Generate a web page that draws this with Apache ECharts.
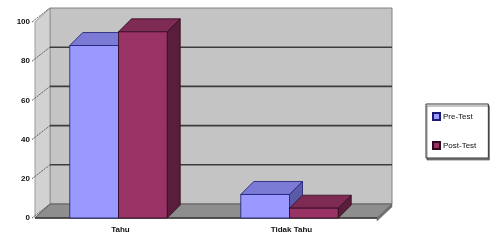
<!DOCTYPE html>
<html><head><meta charset="utf-8">
<script src="https://cdn.jsdelivr.net/npm/echarts@6/dist/echarts.min.js"></script>
<style>html,body{margin:0;padding:0;background:#fff}#c{width:500px;height:249px}</style>
</head><body><div id="c"></div>
<script>
const categories = ['Tahu', 'Tidak Tahu'];
const preTest = [88, 12];
const postTest = [95, 5];
const yTicks = [0, 20, 40, 60, 80, 100];
const seriesNames = ['Pre-Test', 'Post-Test'];

const DX = 15, DY = -14;   // wall depth offset
const BDX = 13, BDY = -13; // bar depth offset
const palettes = [
  {front:'#9999ff', top:'#7b7bd6', side:'#5a5aa8', edge:'#1a1a70'},
  {front:'#993366', top:'#7d2a54', side:'#5a1d3c', edge:'#2e0a1c'}
];

function renderWalls(params, api) {
  const cs = params.coordSys;
  const xl = cs.x, xr = cs.x + cs.width;
  const y0 = api.coord([0, 0])[1], y100 = api.coord([0, 100])[1];
  const ch = [];
  ch.push({type:'polygon', shape:{points:[[xl+DX,y100+DY],[xr+DX,y100+DY],[xr+DX,y0+DY],[xl+DX,y0+DY]]},
    style:{fill:'#c4c4c4', stroke:'#808080', lineWidth:1}});
  ch.push({type:'polygon', shape:{points:[[xl,y100],[xl+DX,y100+DY],[xl+DX,y0+DY],[xl,y0]]},
    style:{fill:'#d2d2d2', stroke:'#9a9a9a', lineWidth:1}});
  yTicks.forEach(v => {
    const y = api.coord([0, v])[1];
    if (v > 0 && v < 100) {
      ch.push({type:'line', shape:{x1:xl+DX, y1:y+DY, x2:xr+DX, y2:y+DY}, style:{stroke:'#3c3c3c', lineWidth:1.6}});
    }
    ch.push({type:'line', shape:{x1:xl-3, y1:y, x2:xl+DX, y2:y+DY}, style:{stroke:'#5e5e5e', lineWidth:1, lineDash:[2,1]}});
  });
  ch.push({type:'polygon', shape:{points:[[xl,y0],[xl+DX,y0+DY],[xr+DX,y0+DY],[xr,y0]]},
    style:{fill:'#8e8e8e', stroke:'#5e5e5e', lineWidth:1}});
  ch.push({type:'polygon', shape:{points:[[xr,y0],[xr+DX,y0+DY],[xr+DX,y0+DY+3],[xr,y0+3]]},
    style:{fill:'#6e6e6e', stroke:'#6e6e6e', lineWidth:0.5}});
  ch.push({type:'line', shape:{x1:xl, y1:y0, x2:xr, y2:y0}, style:{stroke:'#3a3a3a', lineWidth:1.5}});
  return {type:'group', children:ch};
}

function makeBarRenderer(sIdx) {
  const p = palettes[sIdx];
  return function(params, api) {
    const cat = api.value(0), val = api.value(1);
    const top = api.coord([cat, val]);
    const base = api.coord([cat, 0]);
    const band = api.size([1, 0])[0];
    const w = band * 0.285;
    const x0 = top[0] - 2 - w + sIdx * w;
    const x1 = x0 + w;
    const yT = top[1], yB = base[1];
    return {type:'group', children:[
      {type:'polygon', shape:{points:[[x1,yB],[x1+BDX,yB+BDY],[x1+BDX,yT+BDY],[x1,yT]]},
        style:{fill:p.side, stroke:p.edge, lineWidth:0.8}},
      {type:'polygon', shape:{points:[[x0,yT],[x0+BDX,yT+BDY],[x1+BDX,yT+BDY],[x1,yT]]},
        style:{fill:p.top, stroke:p.edge, lineWidth:0.8}},
      {type:'rect', shape:{x:x0, y:yT, width:w, height:yB-yT},
        style:{fill:p.front, stroke:p.edge, lineWidth:0.8}}
    ]};
  };
}

const chart = echarts.init(document.getElementById('c'), null, {renderer:'canvas'});
chart.setOption({
  animation:false,
  backgroundColor:'#fff',
  grid:{left:35, right:123, top:22, bottom:31},
  xAxis:{type:'category', data:categories,
    axisLine:{show:false}, axisTick:{show:false}, splitLine:{show:false},
    axisLabel:{margin:8, fontSize:8, fontWeight:'bold', color:'#111', fontFamily:'Liberation Sans'}},
  yAxis:{type:'value', min:0, max:100, interval:20,
    axisLine:{show:false}, axisTick:{show:false}, splitLine:{show:false},
    axisLabel:{margin:5, fontSize:8, fontWeight:'bold', color:'#111', fontFamily:'Liberation Sans'}},
  legend:{orient:'vertical', left:426, top:104, data:seriesNames,
    borderColor:'#333', borderWidth:1, padding:[8,12,8,6], itemGap:20,
    itemWidth:7, itemHeight:7, icon:'rect',
    shadowColor:'rgba(0,0,0,0.45)', shadowOffsetX:1, shadowOffsetY:2, shadowBlur:0, backgroundColor:'#fff',
    textStyle:{fontSize:8, color:'#111', fontFamily:'Liberation Sans', padding:[0,0,0,-2]}},
  series:[
    {type:'custom', name:'walls', renderItem:renderWalls, data:[[0,0]], silent:true, z:1},
    {type:'custom', name:seriesNames[0], renderItem:makeBarRenderer(0),
      itemStyle:{color:palettes[0].front, borderColor:palettes[0].edge, borderWidth:1},
      data:categories.map((c,i)=>[i, preTest[i]]), z:2},
    {type:'custom', name:seriesNames[1], renderItem:makeBarRenderer(1),
      itemStyle:{color:palettes[1].front, borderColor:palettes[1].edge, borderWidth:1},
      data:categories.map((c,i)=>[i, postTest[i]]), z:3}
  ]
});
</script></body></html>
